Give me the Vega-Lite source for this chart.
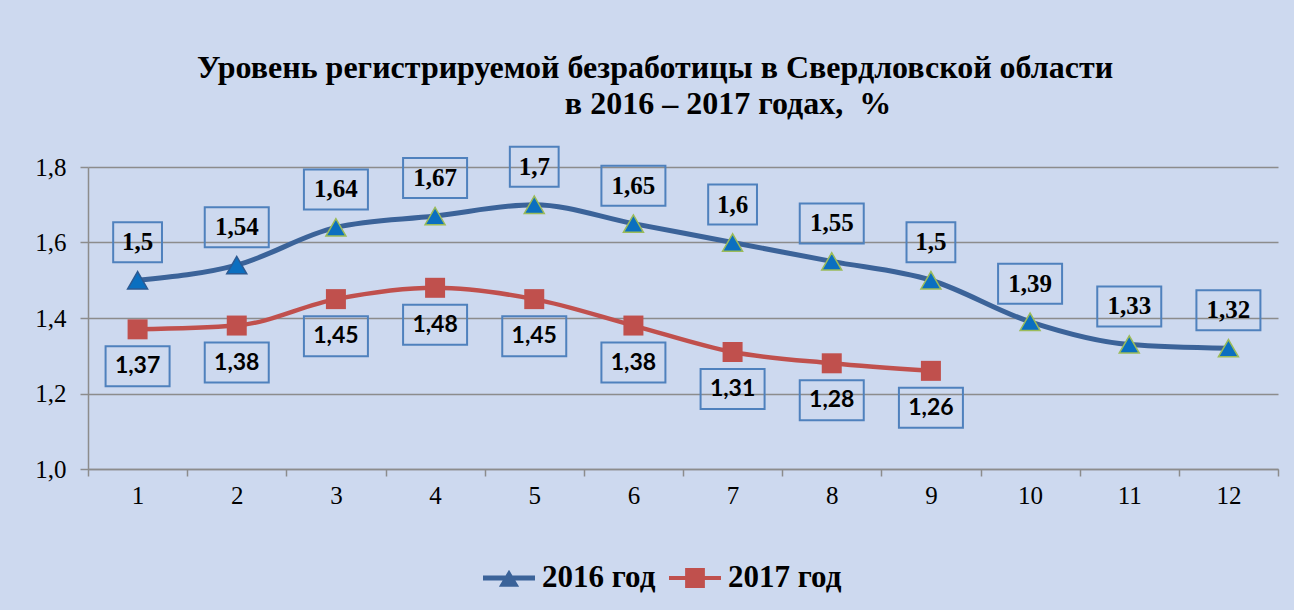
{
  "$schema": "https://vega.github.io/schema/vega-lite/v6.json",
  "width": 1190,
  "height": 302,
  "autosize": "none",
  "padding": {"left": 88, "top": 167, "right": 16, "bottom": 141},
  "background": "#cdd9ef",
  "config": {
    "locale": {"number": {"decimal": ",", "thousands": "\u00a0", "grouping": [3], "currency": ["", ""]}},
    "view": {"stroke": null}
  },
  "title": {
    "text": ["Уровень регистрируемой безработицы в Свердловской области", "\u2800\u2800\u2800\u2800\u2800\u2800\u00a0в 2016 – 2017 годах,\u00a0\u00a0%"],
    "font": "Liberation Serif",
    "fontSize": 32,
    "fontWeight": "bold",
    "color": "#000000",
    "anchor": "middle",
    "dx": -28,
    "lineHeight": 36,
    "offset": 22
  },
  "data": {"values": [
    {"m": 1, "year": "2016 год", "v": 1.5},
    {"m": 2, "year": "2016 год", "v": 1.54},
    {"m": 3, "year": "2016 год", "v": 1.64},
    {"m": 4, "year": "2016 год", "v": 1.67},
    {"m": 5, "year": "2016 год", "v": 1.7},
    {"m": 6, "year": "2016 год", "v": 1.65},
    {"m": 7, "year": "2016 год", "v": 1.6},
    {"m": 8, "year": "2016 год", "v": 1.55},
    {"m": 9, "year": "2016 год", "v": 1.5},
    {"m": 10, "year": "2016 год", "v": 1.39},
    {"m": 11, "year": "2016 год", "v": 1.33},
    {"m": 12, "year": "2016 год", "v": 1.32},
    {"m": 1, "year": "2017 год", "v": 1.37},
    {"m": 2, "year": "2017 год", "v": 1.38},
    {"m": 3, "year": "2017 год", "v": 1.45},
    {"m": 4, "year": "2017 год", "v": 1.48},
    {"m": 5, "year": "2017 год", "v": 1.45},
    {"m": 6, "year": "2017 год", "v": 1.38},
    {"m": 7, "year": "2017 год", "v": 1.31},
    {"m": 8, "year": "2017 год", "v": 1.28},
    {"m": 9, "year": "2017 год", "v": 1.26}
  ]},
  "encoding": {
    "x": {"field": "m", "type": "ordinal", "title": null, "scale": {"type": "band", "paddingInner": 0, "paddingOuter": 0},
      "axis": {"labelAngle": 0, "tickBand": "extent", "grid": false, "tickSize": 7, "labelPadding": 7,
        "labelFont": "Liberation Serif", "labelFontSize": 25, "labelColor": "#000000", "domainColor": "#8c8c8c", "domainWidth": 1.5, "tickColor": "#8c8c8c", "tickWidth": 1.5}},
    "y": {"field": "v", "type": "quantitative", "title": null, "scale": {"domain": [1, 1.8], "nice": false, "zero": false},
      "axis": {"values": [1, 1.2, 1.4, 1.6, 1.8], "format": ".1f", "grid": true, "tickSize": 8, "labelPadding": 14,
        "labelFont": "Liberation Serif", "labelFontSize": 25, "labelColor": "#000000", "domainColor": "#8c8c8c", "domainWidth": 1.5, "tickColor": "#8c8c8c", "tickWidth": 1.5, "gridColor": "#8c8c8c", "gridWidth": 1.5}}
  },
  "layer": [
    {"transform": [{"filter": "datum.year == '2016 год'"}],
     "mark": {"type": "line", "stroke": "#3b6399", "strokeWidth": 5, "interpolate": "monotone"}},
    {"transform": [{"filter": "datum.year == '2017 год'"}],
     "mark": {"type": "line", "stroke": "#c0504d", "strokeWidth": 4.5, "interpolate": "monotone"}},
    {"transform": [{"filter": "datum.year == '2016 год'"}],
     "mark": {"type": "point", "shape": "triangle-up", "size": 400, "filled": true, "fill": "#0b6fc0", "fillOpacity": 1, "strokeWidth": 1.5, "opacity": 1},
     "encoding": {"stroke": {"condition": {"test": "datum.m <= 2", "value": "#2d5a92"}, "value": "#9bbb59"}}},
    {"transform": [{"filter": "datum.year == '2017 год'"}],
     "mark": {"type": "point", "shape": "square", "size": 400, "filled": true, "fill": "#c0504d", "opacity": 1}},
    {"transform": [{"filter": "datum.year == '2016 год'"}],
     "mark": {"type": "point", "size": 1600, "filled": false, "stroke": "#4f81bd", "strokeWidth": 2, "opacity": 1, "yOffset": -38},
     "encoding": {"shape": {"condition": {"test": "length(toString(datum.v)) <= 3", "value": "M-1.22,-1H1.22V1H-1.22Z"}, "value": "M-1.6,-1H1.6V1H-1.6Z"}}},
    {"transform": [{"filter": "datum.year == '2016 год'"}],
     "mark": {"type": "text", "font": "Liberation Serif", "fontSize": 25, "fontWeight": "bold", "color": "#000000", "dy": -38, "baseline": "middle"},
     "encoding": {"text": {"field": "v", "type": "quantitative", "format": "~g"}}},
    {"transform": [{"filter": "datum.year == '2017 год'"}],
     "mark": {"type": "point", "size": 1600, "filled": false, "stroke": "#4f81bd", "strokeWidth": 2, "opacity": 1, "yOffset": 37},
     "encoding": {"shape": {"value": "M-1.6,-1H1.6V1H-1.6Z"}}},
    {"transform": [{"filter": "datum.year == '2017 год'"}],
     "mark": {"type": "text", "font": "Lato", "fontSize": 23, "fontWeight": "bold", "color": "#000000", "dy": 37, "baseline": "middle"},
     "encoding": {"text": {"field": "v", "type": "quantitative", "format": "~g"}}},
    {"mark": {"type": "point", "filled": true, "size": 0, "opacity": 1},
     "encoding": {
       "fill": {"field": "year", "type": "nominal", "scale": {"domain": ["2016 год", "2017 год"], "range": ["#3b6399", "#c0504d"]},
         "legend": {"orient": "none", "legendX": 395, "legendY": 385, "direction": "horizontal", "title": null,
           "symbolSize": 2704, "symbolOpacity": 1, "symbolStrokeWidth": 0, "labelFont": "Liberation Serif", "labelFontSize": 31,
           "labelFontWeight": "bold", "labelColor": "#000000", "labelOffset": 7, "columnPadding": 13, "padding": 0}},
       "shape": {"field": "year", "type": "nominal", "scale": {"domain": ["2016 год", "2017 год"],
         "range": ["M-1,-0.1H1V0.1H-1Z M0,-0.32L0.39,0.34H-0.39Z", "M-1,-0.08H1V0.08H-1Z M-0.38,-0.38H0.38V0.38H-0.38Z"]}}
     }}
  ]
}
